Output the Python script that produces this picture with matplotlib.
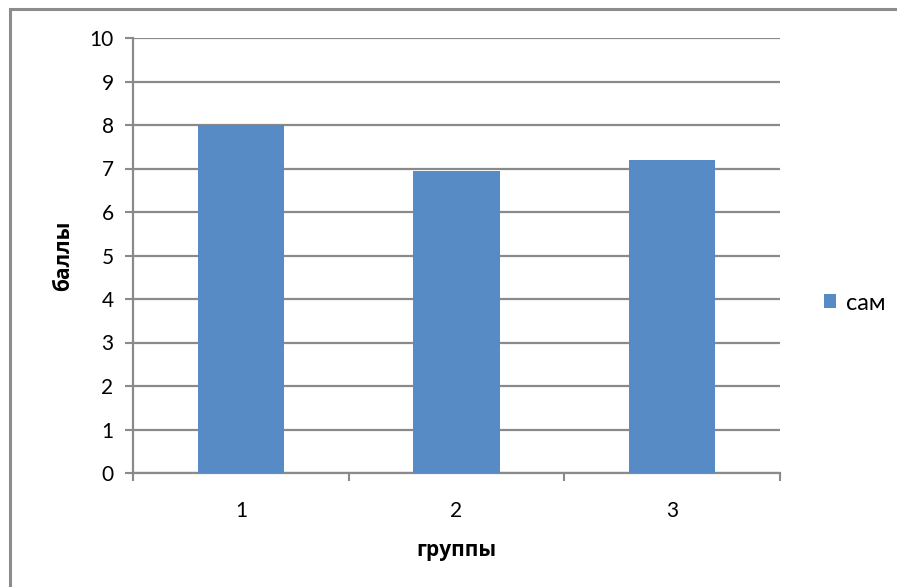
import matplotlib
matplotlib.use("Agg")
import matplotlib.pyplot as plt
from matplotlib.patches import Rectangle

plt.rcParams['font.family'] = ['Lato', 'DejaVu Sans']

categories = ["1", "2", "3"]
values = [8.0, 6.95, 7.2]
series_name = "сам"
y_ticks = list(range(0, 11))
x_label = "группы"
y_label = "баллы"

W, H = 897, 587
fig = plt.figure(figsize=(W / 100, H / 100), dpi=100)
fig.patch.set_facecolor("white")

# outer frame (only left/top visible in reference)
fig.patches.append(Rectangle((10 / W, -0.1), 1.2, 1 - 9 / H + 0.1, transform=fig.transFigure,
                             fill=False, edgecolor="#8c8c8c", linewidth=2.2))

ax = fig.add_axes([133 / W, 1 - 473 / H, 647 / W, 435 / H])
grid_c = "#8a8a8a"
x = [1, 2, 3]
ax.bar(x, values, width=0.40, color="#578BC6", zorder=3, label=series_name)
ax.set_xlim(0.5, 3.5)
ax.set_ylim(0, 10)
ax.set_yticks(y_ticks)
ax.set_yticklabels([str(t) for t in y_ticks])
ax.set_xticks(x)
ax.set_xticklabels(categories)
ax.set_xticks([0.5, 1.5, 2.5, 3.5], minor=True)
ax.tick_params(axis="x", which="major", length=0, pad=20, labelsize=15)
ax.tick_params(axis="x", which="minor", length=6, width=1.5, color=grid_c, direction="out")
ax.tick_params(axis="y", which="major", length=6, width=1.5, color=grid_c, pad=8, labelsize=15)
ax.yaxis.grid(True, color=grid_c, linewidth=1.6, zorder=0)
ax.set_axisbelow(True)
for s in ["top", "right"]:
    ax.spines[s].set_visible(False)
for s in ["left", "bottom"]:
    ax.spines[s].set_color(grid_c)
    ax.spines[s].set_linewidth(1.6)

ax.set_xlabel(x_label, fontsize=15, fontweight="bold", labelpad=14,
              family=["Open Sans", "DejaVu Sans"])
ax.set_ylabel(y_label, fontsize=15, fontweight="bold", labelpad=11,
              family=["Open Sans", "DejaVu Sans"])

leg = ax.legend(loc="center left", bbox_to_anchor=(824 / W, 1 - 303 / H), bbox_transform=fig.transFigure,
                frameon=False, fontsize=17, handlelength=0.5, handleheight=0.5, handletextpad=0.45,
                borderpad=0, borderaxespad=0)

fig.savefig("out.png", dpi=100)
